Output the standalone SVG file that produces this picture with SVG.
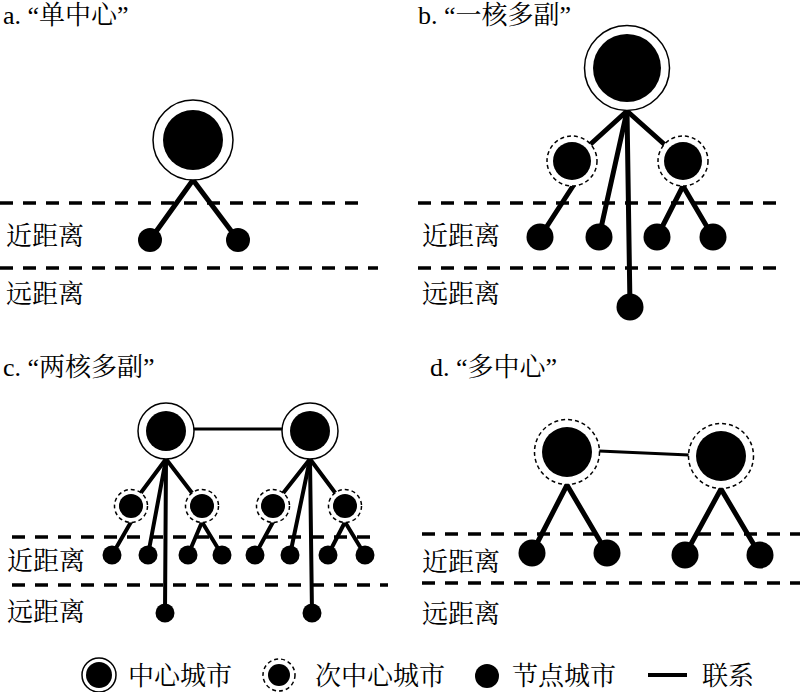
<svg xmlns="http://www.w3.org/2000/svg" width="800" height="692" viewBox="0 0 800 692">
<defs>
<style>
text{font-family:"Liberation Serif","Noto Serif CJK SC","Noto Sans CJK SC",serif;font-size:26px;fill:#000}
.div{stroke:#000;stroke-width:3.5;stroke-dasharray:13,10;fill:none}
.ln{stroke:#000;stroke-width:5;stroke-linecap:round;fill:none}
.lnc{stroke:#000;stroke-width:4;stroke-linecap:round;fill:none}
.link{stroke:#000;stroke-width:3;fill:none}
.ring{fill:#fff;stroke:#000;stroke-width:1.5}
.dring{fill:#fff;stroke:#000;stroke-width:1.5;stroke-dasharray:4,3}
.dot{fill:#000}
</style>
</defs>
<rect width="800" height="692" fill="#fff"/>

<!-- Panel a -->
<g id="panel-a">
<text x="3" y="24">a. “单中心”</text>
<line class="div" x1="0" y1="203" x2="363" y2="203"/>
<line class="div" x1="0" y1="268" x2="378" y2="268"/>
<text x="6" y="245">近距离</text>
<text x="6" y="303">远距离</text>
<g id="a-connectors">
<line class="ln" x1="193" y1="180" x2="150" y2="240"/>
<line class="ln" x1="193" y1="180" x2="238" y2="240"/>
</g>
<g id="a-center"><circle class="ring" cx="193" cy="140" r="40"/><circle class="dot" cx="193" cy="140" r="30"/></g>
<g id="a-n1"><circle class="dot" cx="150" cy="240" r="12"/></g>
<g id="a-n2"><circle class="dot" cx="238" cy="240" r="12"/></g>
</g>

<!-- Panel b -->
<g id="panel-b">
<text x="418" y="24">b. “一核多副”</text>
<line class="div" x1="418" y1="203" x2="782" y2="203"/>
<line class="div" x1="418" y1="268" x2="782" y2="268"/>
<text x="422" y="245">近距离</text>
<text x="422" y="303">远距离</text>
<g id="b-connectors">
<line class="ln" x1="627" y1="111" x2="572" y2="161"/>
<line class="ln" x1="627" y1="111" x2="683" y2="161"/>
<line class="ln" x1="627" y1="111" x2="599" y2="237"/>
<line class="ln" x1="627" y1="111" x2="630" y2="307"/>
<line class="ln" x1="573" y1="186" x2="540" y2="237"/>
<line class="ln" x1="683" y1="186" x2="657" y2="237"/>
<line class="ln" x1="683" y1="186" x2="713" y2="237"/>
</g>
<g id="b-center"><circle class="ring" cx="627" cy="68" r="42.5"/><circle class="dot" cx="627" cy="68" r="34"/></g>
<g id="b-sub1"><circle class="dring" cx="572" cy="161" r="25"/><circle class="dot" cx="572" cy="161" r="19"/></g>
<g id="b-sub2"><circle class="dring" cx="683" cy="161" r="25"/><circle class="dot" cx="683" cy="161" r="19"/></g>
<g id="b-n1"><circle class="dot" cx="540" cy="237" r="13.5"/></g>
<g id="b-n2"><circle class="dot" cx="599" cy="237" r="13.5"/></g>
<g id="b-n3"><circle class="dot" cx="657" cy="237" r="13.5"/></g>
<g id="b-n4"><circle class="dot" cx="713" cy="237" r="13.5"/></g>
<g id="b-far"><circle class="dot" cx="630" cy="307" r="13.5"/></g>
</g>

<!-- Panel c -->
<g id="panel-c">
<text x="3" y="376">c. “两核多副”</text>
<line class="div" x1="12" y1="537" x2="375" y2="537"/>
<line class="div" x1="12" y1="585" x2="388" y2="585"/>
<text x="7" y="570">近距离</text>
<text x="7" y="621">远距离</text>
<g id="c-connectors">
<line class="link" x1="194" y1="429" x2="282" y2="429"/>
<line class="lnc" x1="166" y1="459" x2="131" y2="506"/>
<line class="lnc" x1="166" y1="459" x2="148" y2="555"/>
<line class="lnc" x1="166" y1="459" x2="165" y2="613"/>
<line class="lnc" x1="166" y1="459" x2="202" y2="506"/>
<line class="lnc" x1="131" y1="522" x2="112" y2="555"/>
<line class="lnc" x1="202" y1="522" x2="188" y2="555"/>
<line class="lnc" x1="202" y1="522" x2="222" y2="555"/>
<line class="lnc" x1="310" y1="459" x2="273" y2="506"/>
<line class="lnc" x1="310" y1="459" x2="290" y2="555"/>
<line class="lnc" x1="310" y1="459" x2="312" y2="613"/>
<line class="lnc" x1="310" y1="459" x2="345" y2="506"/>
<line class="lnc" x1="273" y1="522" x2="255" y2="555"/>
<line class="lnc" x1="345" y1="522" x2="328" y2="555"/>
<line class="lnc" x1="345" y1="522" x2="365" y2="555"/>
</g>
<g id="c-center1"><circle class="ring" cx="166" cy="431" r="28"/><circle class="dot" cx="166" cy="431" r="20"/></g>
<g id="c-center2"><circle class="ring" cx="310" cy="431" r="28"/><circle class="dot" cx="310" cy="431" r="20"/></g>
<g id="c-sub1"><circle class="dring" cx="131" cy="506" r="16.5"/><circle class="dot" cx="131" cy="506" r="12"/></g>
<g id="c-sub2"><circle class="dring" cx="202" cy="506" r="16.5"/><circle class="dot" cx="202" cy="506" r="12"/></g>
<g id="c-sub3"><circle class="dring" cx="273" cy="506" r="16.5"/><circle class="dot" cx="273" cy="506" r="12"/></g>
<g id="c-sub4"><circle class="dring" cx="345" cy="506" r="16.5"/><circle class="dot" cx="345" cy="506" r="12"/></g>
<g id="c-n1"><circle class="dot" cx="112" cy="555" r="9.5"/></g>
<g id="c-n2"><circle class="dot" cx="148" cy="555" r="9.5"/></g>
<g id="c-n3"><circle class="dot" cx="188" cy="555" r="9.5"/></g>
<g id="c-n4"><circle class="dot" cx="222" cy="555" r="9.5"/></g>
<g id="c-n5"><circle class="dot" cx="255" cy="555" r="9.5"/></g>
<g id="c-n6"><circle class="dot" cx="290" cy="555" r="9.5"/></g>
<g id="c-n7"><circle class="dot" cx="328" cy="555" r="9.5"/></g>
<g id="c-n8"><circle class="dot" cx="365" cy="555" r="9.5"/></g>
<g id="c-far1"><circle class="dot" cx="165" cy="613" r="9.5"/></g>
<g id="c-far2"><circle class="dot" cx="312" cy="613" r="9.5"/></g>
</g>

<!-- Panel d -->
<g id="panel-d">
<text x="430" y="376">d. “多中心”</text>
<line class="div" x1="422" y1="534" x2="800" y2="534"/>
<line class="div" x1="422" y1="583" x2="800" y2="583"/>
<text x="422" y="571">近距离</text>
<text x="422" y="623">远距离</text>
<g id="d-connectors">
<line class="link" x1="599" y1="451" x2="689" y2="455"/>
<line class="ln" x1="567" y1="485" x2="532" y2="553"/>
<line class="ln" x1="567" y1="485" x2="607" y2="553"/>
<line class="ln" x1="721" y1="489" x2="685" y2="555"/>
<line class="ln" x1="721" y1="489" x2="760" y2="555"/>
</g>
<g id="d-center1"><circle class="dring" cx="567" cy="452" r="32.5"/><circle class="dot" cx="567" cy="452" r="25"/></g>
<g id="d-center2"><circle class="dring" cx="721" cy="456" r="32.5"/><circle class="dot" cx="721" cy="456" r="25"/></g>
<g id="d-n1"><circle class="dot" cx="532" cy="553" r="13.5"/></g>
<g id="d-n2"><circle class="dot" cx="607" cy="553" r="13.5"/></g>
<g id="d-n3"><circle class="dot" cx="685" cy="555" r="13.5"/></g>
<g id="d-n4"><circle class="dot" cx="760" cy="555" r="13.5"/></g>
</g>

<!-- Legend -->
<g id="legend">
<g id="legend-center"><circle class="ring" cx="99" cy="675" r="17"/><circle class="dot" cx="99" cy="675" r="13"/></g>
<text x="128" y="685">中心城市</text>
<g id="legend-sub"><circle class="dring" cx="279" cy="675" r="16"/><circle class="dot" cx="279" cy="675" r="11"/></g>
<text x="315" y="685">次中心城市</text>
<g id="legend-node"><circle class="dot" cx="487" cy="676" r="12"/></g>
<text x="512" y="685">节点城市</text>
<line x1="648" y1="675" x2="687" y2="675" stroke="#000" stroke-width="4"/>
<text x="702" y="685">联系</text>
</g>
</svg>
